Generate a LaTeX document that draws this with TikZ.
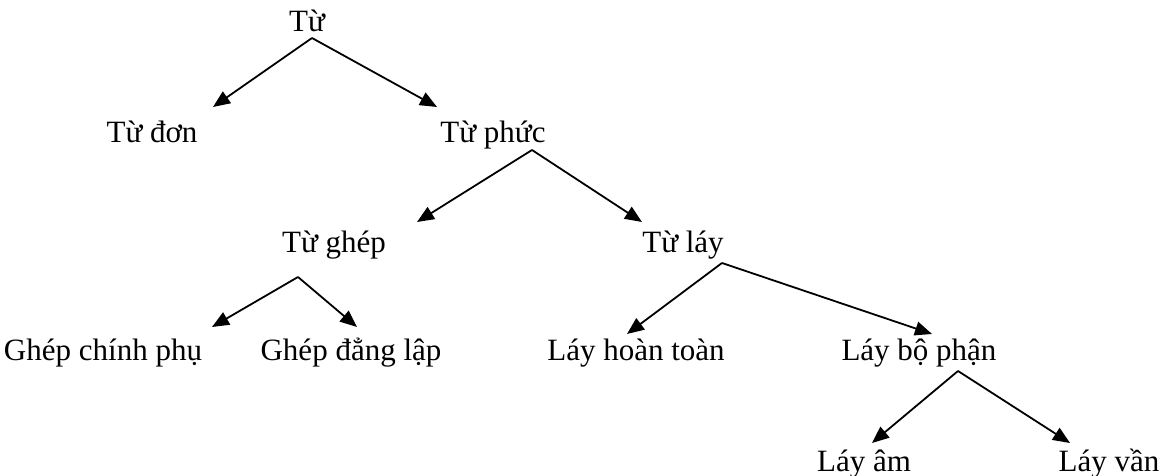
\documentclass[tikz,border=0pt]{standalone}
\usepackage{fontspec}
\setmainfont{Liberation Serif}
\usetikzlibrary{arrows.meta}
\tikzstyle{word} = [inner sep=0pt, anchor=base, font=\fontsize{15.5}{18}\selectfont]
\tikzstyle{branch} = [line width=0.9pt, black, -{Triangle[length=8.5pt, width=7pt]}]

\begin{document}
\begin{tikzpicture}[x=0.5pt, y=-0.5pt]

    \useasboundingbox (0, 0) rectangle (1164, 476);

    \node (tu) [word] at (307, 32) {Từ};

    \node (tudon) [word] at (152, 143) {Từ đơn};
    \node (tuphuc) [word] at (493, 143) {Từ phức};

    \node (tughep) [word] at (334, 253) {Từ ghép};
    \node (tulay) [word] at (683, 253) {Từ láy};

    \node (ghepcp) [word] at (103, 361) {Ghép chính phụ};
    \node (ghepdl) [word] at (351, 361) {Ghép đẳng lập};
    \node (layht) [word] at (636, 361) {Láy hoàn toàn};
    \node (laybp) [word] at (919, 361) {Láy bộ phận};

    \node (layam) [word] at (864, 472) {Láy âm};
    \node (layvan) [word] at (1109, 472) {Láy vần};

    \draw [branch] ([shift={(5,6)}]tu.base) -- ([shift={(61,-36)}]tudon.base);
    \draw [branch] ([shift={(5,6)}]tu.base) -- ([shift={(-56,-36)}]tuphuc.base);

    \draw [branch] ([shift={(39,7)}]tuphuc.base) -- ([shift={(83,-31)}]tughep.base);
    \draw [branch] ([shift={(39,7)}]tuphuc.base) -- ([shift={(-41,-31)}]tulay.base);

    \draw [branch] ([shift={(-36,24)}]tughep.base) -- ([shift={(109,-34)}]ghepcp.base);
    \draw [branch] ([shift={(-36,24)}]tughep.base) -- ([shift={(6,-34)}]ghepdl.base);

    \draw [branch] ([shift={(39,10)}]tulay.base) -- ([shift={(-9,-27)}]layht.base);
    \draw [branch] ([shift={(39,10)}]tulay.base) -- ([shift={(13,-27)}]laybp.base);

    \draw [branch] ([shift={(39,10)}]laybp.base) -- ([shift={(8,-29)}]layam.base);
    \draw [branch] ([shift={(39,10)}]laybp.base) -- ([shift={(-39,-29)}]layvan.base);

\end{tikzpicture}
\end{document}
